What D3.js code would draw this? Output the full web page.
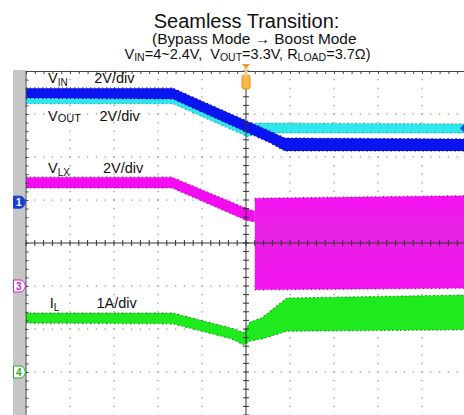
<!DOCTYPE html>
<html><head><meta charset="utf-8">
<script src="https://cdn.jsdelivr.net/npm/d3@7"></script>
<style>
html,body{margin:0;padding:0;background:#fff;}
svg{display:block;font-family:"Liberation Sans",Arial,sans-serif;}
text{white-space:pre;}
</style></head>
<body>
<svg id="c" width="464" height="415"></svg>
<script>
// ---- data (time in divisions, amplitude in divisions; band = upper / lower edge of the noisy trace) ----
const vinT  = [-5, -1.66, 0.545, 0.886, 5];
const vinHi = [3.60, 3.60, 2.60, 2.44, 2.42];
const vinLo = [3.37, 3.35, 2.33, 2.14, 2.14];

const voutT  = [-5, -1.66, 0.045, 0.27, 5];
const voutHi = [3.51, 3.51, 2.77, 2.79, 2.77];
const voutLo = [3.24, 3.24, 2.47, 2.56, 2.56];

const vlxT  = [-5, -1.68, 0, 0.2];
const vlxHi = [1.53, 1.53, 0.81, 0.74];
const vlxLo = [1.28, 1.28, 0.53, 0.49];

const vlxSwT  = [0.2, 5];
const vlxSwHi = [1.04, 1.1];
const vlxSwLo = [-1.09, -1.05];

const ilT  = [-5, -1.66, -0.32, -0.05, 0.09, 0.36, 0.93, 5];
const ilHi = [-1.63, -1.63, -1.98, -2.09, -1.84, -1.74, -1.28, -1.21];
const ilLo = [-1.86, -1.88, -2.23, -2.37, -2.28, -2.23, -2.05, -2.02];

const traceLabels = [
  {main:"V", sub:"IN",  subType:"sub",   scale:"2V/div", t:-4.5, v:3.72, st:-3.45},
  {main:"V", sub:"OUT", subType:"small", scale:"2V/div", t:-4.5, v:2.83, st:-3.33},
  {main:"V", sub:"LX",  subType:"sub",   scale:"2V/div", t:-4.5, v:1.63, st:-3.25},
  {main:"I", sub:"L",   subType:"sub",   scale:"1A/div", t:-4.46, v:-1.51, st:-3.4}
];
const channelMarkers = [
  {ch:"1", v: 0.95, color:"#1a3fd8", filled:true},
  {ch:"3", v:-1.0,  color:"#d020d0", filled:false},
  {ch:"4", v:-3.0,  color:"#20b020", filled:false}
];
const titleLine1 = "Seamless Transition:";
const titleLine2 = "(Bypass Mode \u2192 Boost Mode";

// ---- scales ----
const svg = d3.select("#c");
const x = d3.scaleLinear().domain([-5,5]).range([26,466]);
const y = d3.scaleLinear().domain([-4,4]).range([415,71]);

svg.append("rect").attr("width",464).attr("height",415).attr("fill","#fff");
// gray left panel
svg.append("rect").attr("x",13).attr("y",70).attr("width",12.5).attr("height",345).attr("fill","#c6c6c6");

// ---- dotted grid ----
const g = svg.append("g");
const divX = d3.range(-4,5,1), divY = d3.range(-3,4,1);
const minorX = d3.range(-5,5.001,0.2), minorY = d3.range(-4,4.001,0.2);
divX.filter(d=>d!==0).forEach(d=>{
  minorY.forEach(m=>g.append("rect").attr("x",x(d)-0.6).attr("y",y(m)-0.6).attr("width",1.3).attr("height",1.3).attr("fill","#999"));
});
divY.filter(d=>d!==0).forEach(d=>{
  minorX.forEach(m=>g.append("rect").attr("x",x(m)-0.6).attr("y",y(d)-0.6).attr("width",1.3).attr("height",1.3).attr("fill","#999"));
});

// ---- traces ----
function band(T,Hi,Lo,fill,edge){
  const pts = T.map((t,i)=>({t,hi:Hi[i],lo:Lo[i]}));
  const area = d3.area().x(d=>x(d.t)).y0(d=>y(d.lo)).y1(d=>y(d.hi)).curve(d3.curveLinear);
  svg.append("path").datum(pts).attr("d",area).attr("fill",fill);
  const lineHi = d3.line().x(d=>x(d.t)).y(d=>y(d.hi));
  const lineLo = d3.line().x(d=>x(d.t)).y(d=>y(d.lo));
  [lineHi,lineLo].forEach(l=>svg.append("path").datum(pts).attr("d",l).attr("fill","none")
    .attr("stroke",edge).attr("stroke-width",1.2).attr("stroke-dasharray","1.5 2.5 1 3"));
}
band(voutT,voutHi,voutLo,"#2ee6ec","#1aa6b0");
band(vinT,vinHi,vinLo,"#0a14f0","#0a0a9a");
band(vlxT,vlxHi,vlxLo,"#f40cf0","#b010b0");
// switching region with slight shading
const defs = svg.append("defs");
const gr = defs.append("linearGradient").attr("id","swg").attr("x1",0).attr("y1",0).attr("x2",0).attr("y2",1);
gr.append("stop").attr("offset","0").attr("stop-color","#f810f4");
gr.append("stop").attr("offset","0.35").attr("stop-color","#e622e2");
gr.append("stop").attr("offset","0.7").attr("stop-color","#ee18ea");
gr.append("stop").attr("offset","1").attr("stop-color","#f414f0");
band(vlxSwT,vlxSwHi,vlxSwLo,"url(#swg)","#a010a0");
band(ilT,ilHi,ilLo,"#1eea1e","#128a12");

// ---- center axes with minor ticks ----
const ax = svg.append("g").attr("stroke","#333").attr("stroke-width",1);
ax.append("line").attr("x1",x(-5)).attr("x2",x(5)).attr("y1",y(0)).attr("y2",y(0));
ax.append("line").attr("x1",x(0)).attr("x2",x(0)).attr("y1",y(4)).attr("y2",y(-4));
minorX.forEach(m=>ax.append("line").attr("x1",x(m)).attr("x2",x(m)).attr("y1",y(0)-3).attr("y2",y(0)+3));
minorY.forEach(m=>ax.append("line").attr("y1",y(m)).attr("y2",y(m)).attr("x1",x(0)-3).attr("x2",x(0)+3));

// top & left borders with ticks
const topAxis = d3.axisBottom(x).tickValues(minorX).tickSize(3).tickFormat("");
svg.append("g").attr("transform",`translate(0,${y(4)})`).call(topAxis)
  .call(s=>s.selectAll("line,path").attr("stroke","#444"));
const leftAxis = d3.axisRight(y).tickValues(minorY).tickSize(3).tickFormat("");
svg.append("g").attr("transform",`translate(${x(-5)-0.5},0)`).call(leftAxis)
  .call(s=>s.selectAll("line,path").attr("stroke","#444"));

// trigger marker
const tx = x(0), ty = y(4);
svg.append("path").attr("d",`M${tx-4},${ty-7} L${tx+4},${ty-7} L${tx},${ty-2} Z`).attr("fill","#f0a020");
svg.append("rect").attr("x",tx-4).attr("y",ty+4).attr("width",8).attr("height",14).attr("rx",2.5)
  .attr("fill","#f6b848").attr("stroke","#e88a10").attr("stroke-width",1);
svg.append("rect").attr("x",tx-1.5).attr("y",ty-2).attr("width",3).attr("height",8).attr("fill","#f8c888");

// right-edge reference arrow (VOUT)
svg.append("path").attr("d",`M464,${y(2.67)-4} L460,${y(2.67)} L464,${y(2.67)+4} Z`).attr("fill","#1a50e0");

// channel markers
channelMarkers.forEach(m=>{
  const yy = y(m.v);
  svg.append("path").attr("d",`M13.5,${yy-6} L20,${yy-6} Q24,${yy-6} 25.5,${yy} Q24,${yy+6} 20,${yy+6} L13.5,${yy+6} Z`)
    .attr("fill",m.filled?m.color:"#fff").attr("stroke",m.color).attr("stroke-width",1);
  svg.append("text").attr("x",18.8).attr("y",yy+3.6).attr("text-anchor","middle")
    .attr("font-size",10).attr("font-weight","bold").attr("fill",m.filled?"#fff":m.color).text(m.ch);
});

// trace labels
traceLabels.forEach(l=>{
  const t = svg.append("text").attr("x",x(l.t)).attr("y",y(l.v)).attr("font-size",14.5).attr("fill","#111");
  t.append("tspan").text(l.main);
  if(l.subType==="sub") t.append("tspan").attr("font-size",10).attr("dy",3).text(l.sub);
  else t.append("tspan").attr("font-size",11).attr("dy",0.5).text(l.sub);
  svg.append("text").attr("x",x(l.st)).attr("y",y(l.v)).attr("font-size",14.5).attr("fill","#111").text(l.scale);
});

// title
svg.append("text").attr("x",246.5).attr("y",27.5).attr("text-anchor","middle").attr("font-size",20).attr("fill","#111").text(titleLine1);
svg.append("text").attr("x",152).attr("y",44).attr("font-size",15.4).attr("fill","#111").text(titleLine2);
const t3 = svg.append("text").attr("x",247.5).attr("y",58.5).attr("text-anchor","middle").attr("font-size",14.5).attr("fill","#111");
const parts3 = [["V",0],["IN",1],["=4~2.4V,  V",0],["OUT",1],["=3.3V, R",0],["LOAD",1],["=3.7\u03A9)",0]];
let prevSub = 0;
parts3.forEach(([s,sub])=>{
  const sp = t3.append("tspan").text(s);
  if(sub){ sp.attr("font-size",10.5).attr("dy",prevSub?0:2.5); }
  else { sp.attr("dy",prevSub?-2.5:0); }
  prevSub = sub;
});
</script>
</body></html>
